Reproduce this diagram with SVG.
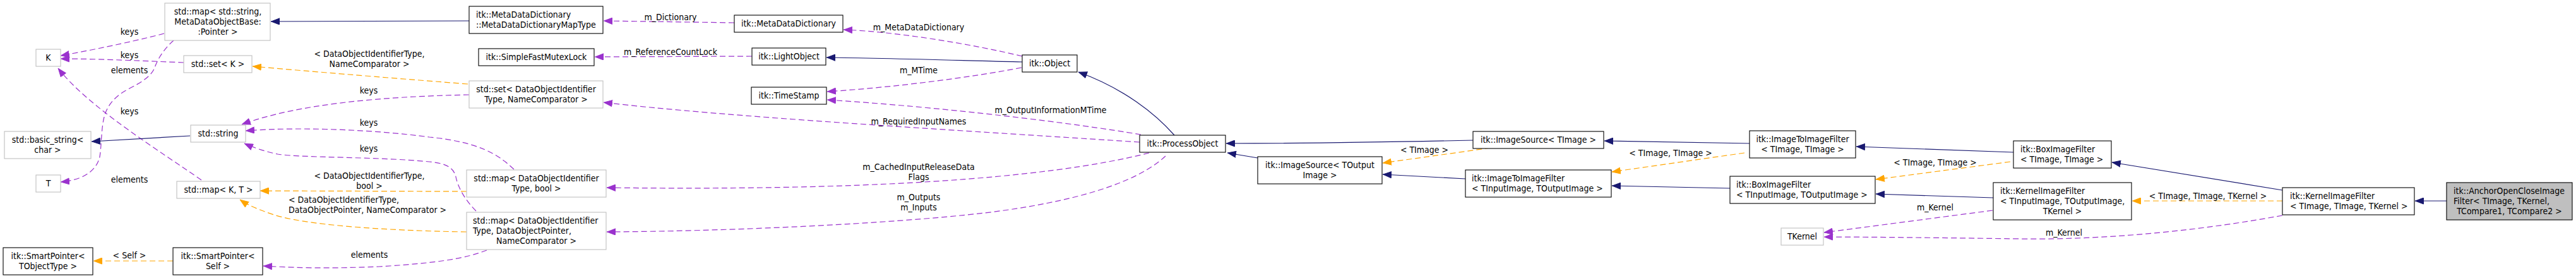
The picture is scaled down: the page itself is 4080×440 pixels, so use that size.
<svg xmlns="http://www.w3.org/2000/svg" width="4080" height="440" viewBox="0 0 4080 440">
<style>
text{font-family:'DejaVu Sans Condensed','DejaVu Sans',sans-serif;font-stretch:condensed;font-size:14px;fill:#000}
.c{text-anchor:middle}
.b rect{fill:#fff;stroke:#000;stroke-width:1.1}
.g rect{fill:#fff;stroke:#bfbfbf;stroke-width:1.1}
.h rect{fill:#bfbfbf;stroke:#000;stroke-width:1.1}
.e{fill:none;stroke-width:1.2}
.nv{stroke:#191970;marker-end:url(#an)}
.pu{stroke:#9a32cd;stroke-dasharray:9,5;marker-end:url(#ap)}
.or{stroke:#ffa500;stroke-dasharray:9,5;marker-end:url(#ao)}
</style>
<defs>
<marker id="an" viewBox="0 0 14 11" refX="14" refY="5.5" markerWidth="14" markerHeight="11" orient="auto" markerUnits="userSpaceOnUse"><path d="M0.5,0.5L13.5,5.5L0.5,10.5z" fill="#191970" stroke="#191970"/></marker>
<marker id="ap" viewBox="0 0 14 11" refX="14" refY="5.5" markerWidth="14" markerHeight="11" orient="auto" markerUnits="userSpaceOnUse"><path d="M0.5,0.5L13.5,5.5L0.5,10.5z" fill="#9a32cd" stroke="#9a32cd"/></marker>
<marker id="ao" viewBox="0 0 14 11" refX="14" refY="5.5" markerWidth="14" markerHeight="11" orient="auto" markerUnits="userSpaceOnUse"><path d="M0.5,0.5L13.5,5.5L0.5,10.5z" fill="#ffa500" stroke="#ffa500"/></marker>
</defs>
<rect width="4080" height="440" fill="#fff"/>
<g id="connectors">
<path class="e nv" d="M743,33 L429,34"/>
<path class="e pu" d="M260,53 C230,61 160,77 96,88"/>
<path class="e pu" d="M291,99 C240,97 160,93 96,93"/>
<path class="e pu" d="M275,64 C262,75 250,92 245,107 C240,120 225,130 205,140 C185,150 170,165 165,185 C160,205 161,230 158,248 C155,262 145,273 130,280 C118,285 108,287 96,288"/>
<path class="e pu" d="M319,285 C255,240 140,170 92,108"/>
<path class="e or" d="M741,133 C600,122 480,112 400,105"/>
<path class="e nv" d="M301,215 L145,224"/>
<path class="e pu" d="M743,150 C600,153 470,165 383,197"/>
<path class="e pu" d="M814,268 C790,245 760,225 680,217 C600,206 480,200 389,207"/>
<path class="e pu" d="M754,334 C735,315 725,295 722,280 C718,262 700,258 680,256 C600,248 480,250 440,244 C420,240 400,233 387,227"/>
<path class="e or" d="M739,303 L412,302"/>
<path class="e or" d="M739,367 C600,365 480,355 434,340 C410,332 393,325 380,316"/>
<path class="e or" d="M274,413 L148,413"/>
<path class="e pu" d="M771,396 C740,408 700,416 600,422 C500,426 460,423 417,421"/>
<path class="e pu" d="M1163,36 L956,33"/>
<path class="e pu" d="M1191,89 L942,90"/>
<path class="e pu" d="M1619,89 C1540,70 1420,50 1336,47"/>
<path class="e nv" d="M1619,98 C1500,95 1400,92 1309,91"/>
<path class="e pu" d="M1618,107 C1540,122 1420,138 1310,145"/>
<path class="e pu" d="M1807,213 C1700,195 1500,170 1310,158"/>
<path class="e pu" d="M1805,225 C1500,205 1150,185 956,162"/>
<path class="e nv" d="M1860,214 C1830,180 1780,140 1708,114"/>
<path class="e pu" d="M1820,242 C1650,285 1350,302 961,297"/>
<path class="e pu" d="M1846,247 C1800,290 1700,320 1560,337 C1400,355 1150,366 961,367"/>
<path class="e nv" d="M2333,222 C2200,225 2050,227 1942,227"/>
<path class="e nv" d="M1992,250 L1944,242"/>
<path class="e or" d="M2361,234 L2190,258"/>
<path class="e nv" d="M2321,283 L2190,276"/>
<path class="e nv" d="M2771,227 C2700,226 2620,224 2541,223"/>
<path class="e or" d="M2763,242 L2553,272"/>
<path class="e nv" d="M2740,298 L2553,294"/>
<path class="e nv" d="M3189,241 L2940,232"/>
<path class="e or" d="M3184,256 L2971,284"/>
<path class="e nv" d="M3157,313 L2971,307"/>
<path class="e pu" d="M3156,333 L2889,368"/>
<path class="e nv" d="M3615,301 L3345,257"/>
<path class="e or" d="M3615,318 L3377,318"/>
<path class="e pu" d="M3615,341 C3500,362 3350,380 3200,378 C3050,376 2950,375 2889,375"/>
<path class="e nv" d="M3875,318 L3825,318"/>
<g id="edge-labels">
<text class="c" x="205" y="55">keys</text>
<text class="c" x="205" y="92">keys</text>
<text class="c" x="205" y="116">elements</text>
<text class="c" x="205" y="181">keys</text>
<text class="c" x="205" y="289">elements</text>
<text class="c" x="585" y="90">&lt; DataObjectIdentifierType,</text>
<text class="c" x="585" y="106">NameComparator &gt;</text>
<text class="c" x="584" y="148">keys</text>
<text class="c" x="584" y="199">keys</text>
<text class="c" x="584" y="240">keys</text>
<text class="c" x="585" y="283">&lt; DataObjectIdentifierType,</text>
<text class="c" x="585" y="299">bool &gt;</text>
<text x="457" y="321">&lt; DataObjectIdentifierType,</text>
<text x="457" y="337">DataObjectPointer, NameComparator &gt;</text>
<text class="c" x="205" y="409">&lt; Self &gt;</text>
<text class="c" x="585" y="408">elements</text>
<text class="c" x="1062" y="32">m_Dictionary</text>
<text class="c" x="1062" y="87">m_ReferenceCountLock</text>
<text class="c" x="1455" y="48">m_MetaDataDictionary</text>
<text class="c" x="1455" y="116">m_MTime</text>
<text class="c" x="1664" y="179">m_OutputInformationMTime</text>
<text class="c" x="1455" y="197">m_RequiredInputNames</text>
<text class="c" x="1455" y="269">m_CachedInputReleaseData</text>
<text class="c" x="1455" y="285">Flags</text>
<text class="c" x="1455" y="317">m_Outputs</text>
<text class="c" x="1455" y="333">m_Inputs</text>
<text class="c" x="2256" y="242">&lt; TImage &gt;</text>
<text class="c" x="2646" y="247">&lt; TImage, TImage &gt;</text>
<text class="c" x="3065" y="262">&lt; TImage, TImage &gt;</text>
<text class="c" x="3065" y="333">m_Kernel</text>
<text class="c" x="3269" y="373">m_Kernel</text>
<text class="c" x="3497" y="315">&lt; TImage, TImage, TKernel &gt;</text>
</g>
</g>
<g id="n-stdmap-string" class="g"><rect x="261" y="5" width="167" height="59"/><text class="c" x="345" y="23">std::map&lt; std::string,</text><text class="c" x="345" y="39">MetaDataObjectBase:</text><text class="c" x="345" y="55">:Pointer &gt;</text></g>
<g id="n-K" class="g"><rect x="57" y="78" width="39" height="27"/><text class="c" x="76.5" y="96">K</text></g>
<g id="n-stdset-K" class="g"><rect x="291" y="88" width="108" height="27"/><text class="c" x="345" y="106">std::set&lt; K &gt;</text></g>
<g id="n-basic-string" class="g"><rect x="7" y="208" width="137" height="43"/><text class="c" x="75.5" y="226">std::basic_string&lt;</text><text class="c" x="75.5" y="242">char &gt;</text></g>
<g id="n-stdstring" class="g"><rect x="302" y="198" width="87" height="27"/><text class="c" x="345.5" y="216">std::string</text></g>
<g id="n-T" class="g"><rect x="57" y="277" width="39" height="27"/><text class="c" x="76.5" y="295">T</text></g>
<g id="n-stdmap-KT" class="g"><rect x="280" y="287" width="132" height="27"/><text class="c" x="346" y="305">std::map&lt; K, T &gt;</text></g>
<g id="n-smartptr-tobj" class="b"><rect x="5" y="392" width="142" height="43"/><text class="c" x="76" y="410">itk::SmartPointer&lt;</text><text class="c" x="76" y="426">TObjectType &gt;</text></g>
<g id="n-smartptr-self" class="b"><rect x="274" y="392" width="142" height="43"/><text class="c" x="345" y="410">itk::SmartPointer&lt;</text><text class="c" x="345" y="426">Self &gt;</text></g>
<g id="n-mdd-maptype" class="b"><rect x="743" y="10" width="212" height="43"/><text x="754" y="28">itk::MetaDataDictionary</text><text x="754" y="44">::MetaDataDictionaryMapType</text></g>
<g id="n-mdd" class="b"><rect x="1163" y="24" width="172" height="27"/><text class="c" x="1249" y="42">itk::MetaDataDictionary</text></g>
<g id="n-mutexlock" class="b"><rect x="758" y="77" width="183" height="27"/><text class="c" x="849.5" y="95">itk::SimpleFastMutexLock</text></g>
<g id="n-lightobject" class="b"><rect x="1191" y="76" width="117" height="27"/><text class="c" x="1249.5" y="94">itk::LightObject</text></g>
<g id="n-stdset-doit" class="g"><rect x="743" y="128" width="212" height="43"/><text class="c" x="849" y="146">std::set&lt; DataObjectIdentifier</text><text class="c" x="849" y="162">Type, NameComparator &gt;</text></g>
<g id="n-timestamp" class="b"><rect x="1190" y="138" width="119" height="27"/><text class="c" x="1249.5" y="156">itk::TimeStamp</text></g>
<g id="n-stdmap-bool" class="g"><rect x="739" y="269" width="221" height="43"/><text class="c" x="849.5" y="287">std::map&lt; DataObjectIdentifier</text><text class="c" x="849.5" y="303">Type, bool &gt;</text></g>
<g id="n-stdmap-dop" class="g"><rect x="739" y="336" width="221" height="59"/><text x="749" y="354">std::map&lt; DataObjectIdentifier</text><text x="749" y="370">Type, DataObjectPointer,</text><text class="c" x="849.5" y="386">NameComparator &gt;</text></g>
<g id="n-object" class="b"><rect x="1619" y="87" width="87" height="27"/><text class="c" x="1662.5" y="105">itk::Object</text></g>
<g id="n-processobject" class="b"><rect x="1805" y="214" width="136" height="27"/><text class="c" x="1873" y="232">itk::ProcessObject</text></g>
<g id="n-imagesource-toutput" class="b"><rect x="1992" y="248" width="197" height="43"/><text class="c" x="2090.5" y="266">itk::ImageSource&lt; TOutput</text><text class="c" x="2090.5" y="282">Image &gt;</text></g>
<g id="n-imagesource-timage" class="b"><rect x="2333" y="208" width="207" height="27"/><text class="c" x="2436.5" y="226">itk::ImageSource&lt; TImage &gt;</text></g>
<g id="n-i2i-tin" class="b"><rect x="2321" y="269" width="231" height="43"/><text x="2331" y="287">itk::ImageToImageFilter</text><text x="2331" y="303">&lt; TInputImage, TOutputImage &gt;</text></g>
<g id="n-i2i-timage" class="b"><rect x="2771" y="207" width="168" height="43"/><text class="c" x="2855" y="225">itk::ImageToImageFilter</text><text class="c" x="2855" y="241">&lt; TImage, TImage &gt;</text></g>
<g id="n-box-timage" class="b"><rect x="3189" y="223" width="155" height="43"/><text x="3200" y="241">itk::BoxImageFilter</text><text x="3200" y="257">&lt; TImage, TImage &gt;</text></g>
<g id="n-box-tin" class="b"><rect x="2740" y="279" width="230" height="43"/><text x="2750" y="297">itk::BoxImageFilter</text><text x="2750" y="313">&lt; TInputImage, TOutputImage &gt;</text></g>
<g id="n-kernel-tin" class="b"><rect x="3157" y="289" width="219" height="59"/><text x="3168" y="307">itk::KernelImageFilter</text><text x="3168" y="323">&lt; TInputImage, TOutputImage,</text><text class="c" x="3266.5" y="339">TKernel &gt;</text></g>
<g id="n-tkernel" class="g"><rect x="2821" y="361" width="67" height="27"/><text class="c" x="2854.5" y="379">TKernel</text></g>
<g id="n-kernel-timage" class="b"><rect x="3615" y="297" width="209" height="43"/><text x="3627" y="315">itk::KernelImageFilter</text><text x="3627" y="331">&lt; TImage, TImage, TKernel &gt;</text></g>
<g id="n-anchor" class="h"><rect x="3875" y="289" width="199" height="59"/><text x="3886" y="307">itk::AnchorOpenCloseImage</text><text x="3886" y="323">Filter&lt; TImage, TKernel,</text><text class="c" x="3974.5" y="339">TCompare1, TCompare2 &gt;</text></g>
</svg>
